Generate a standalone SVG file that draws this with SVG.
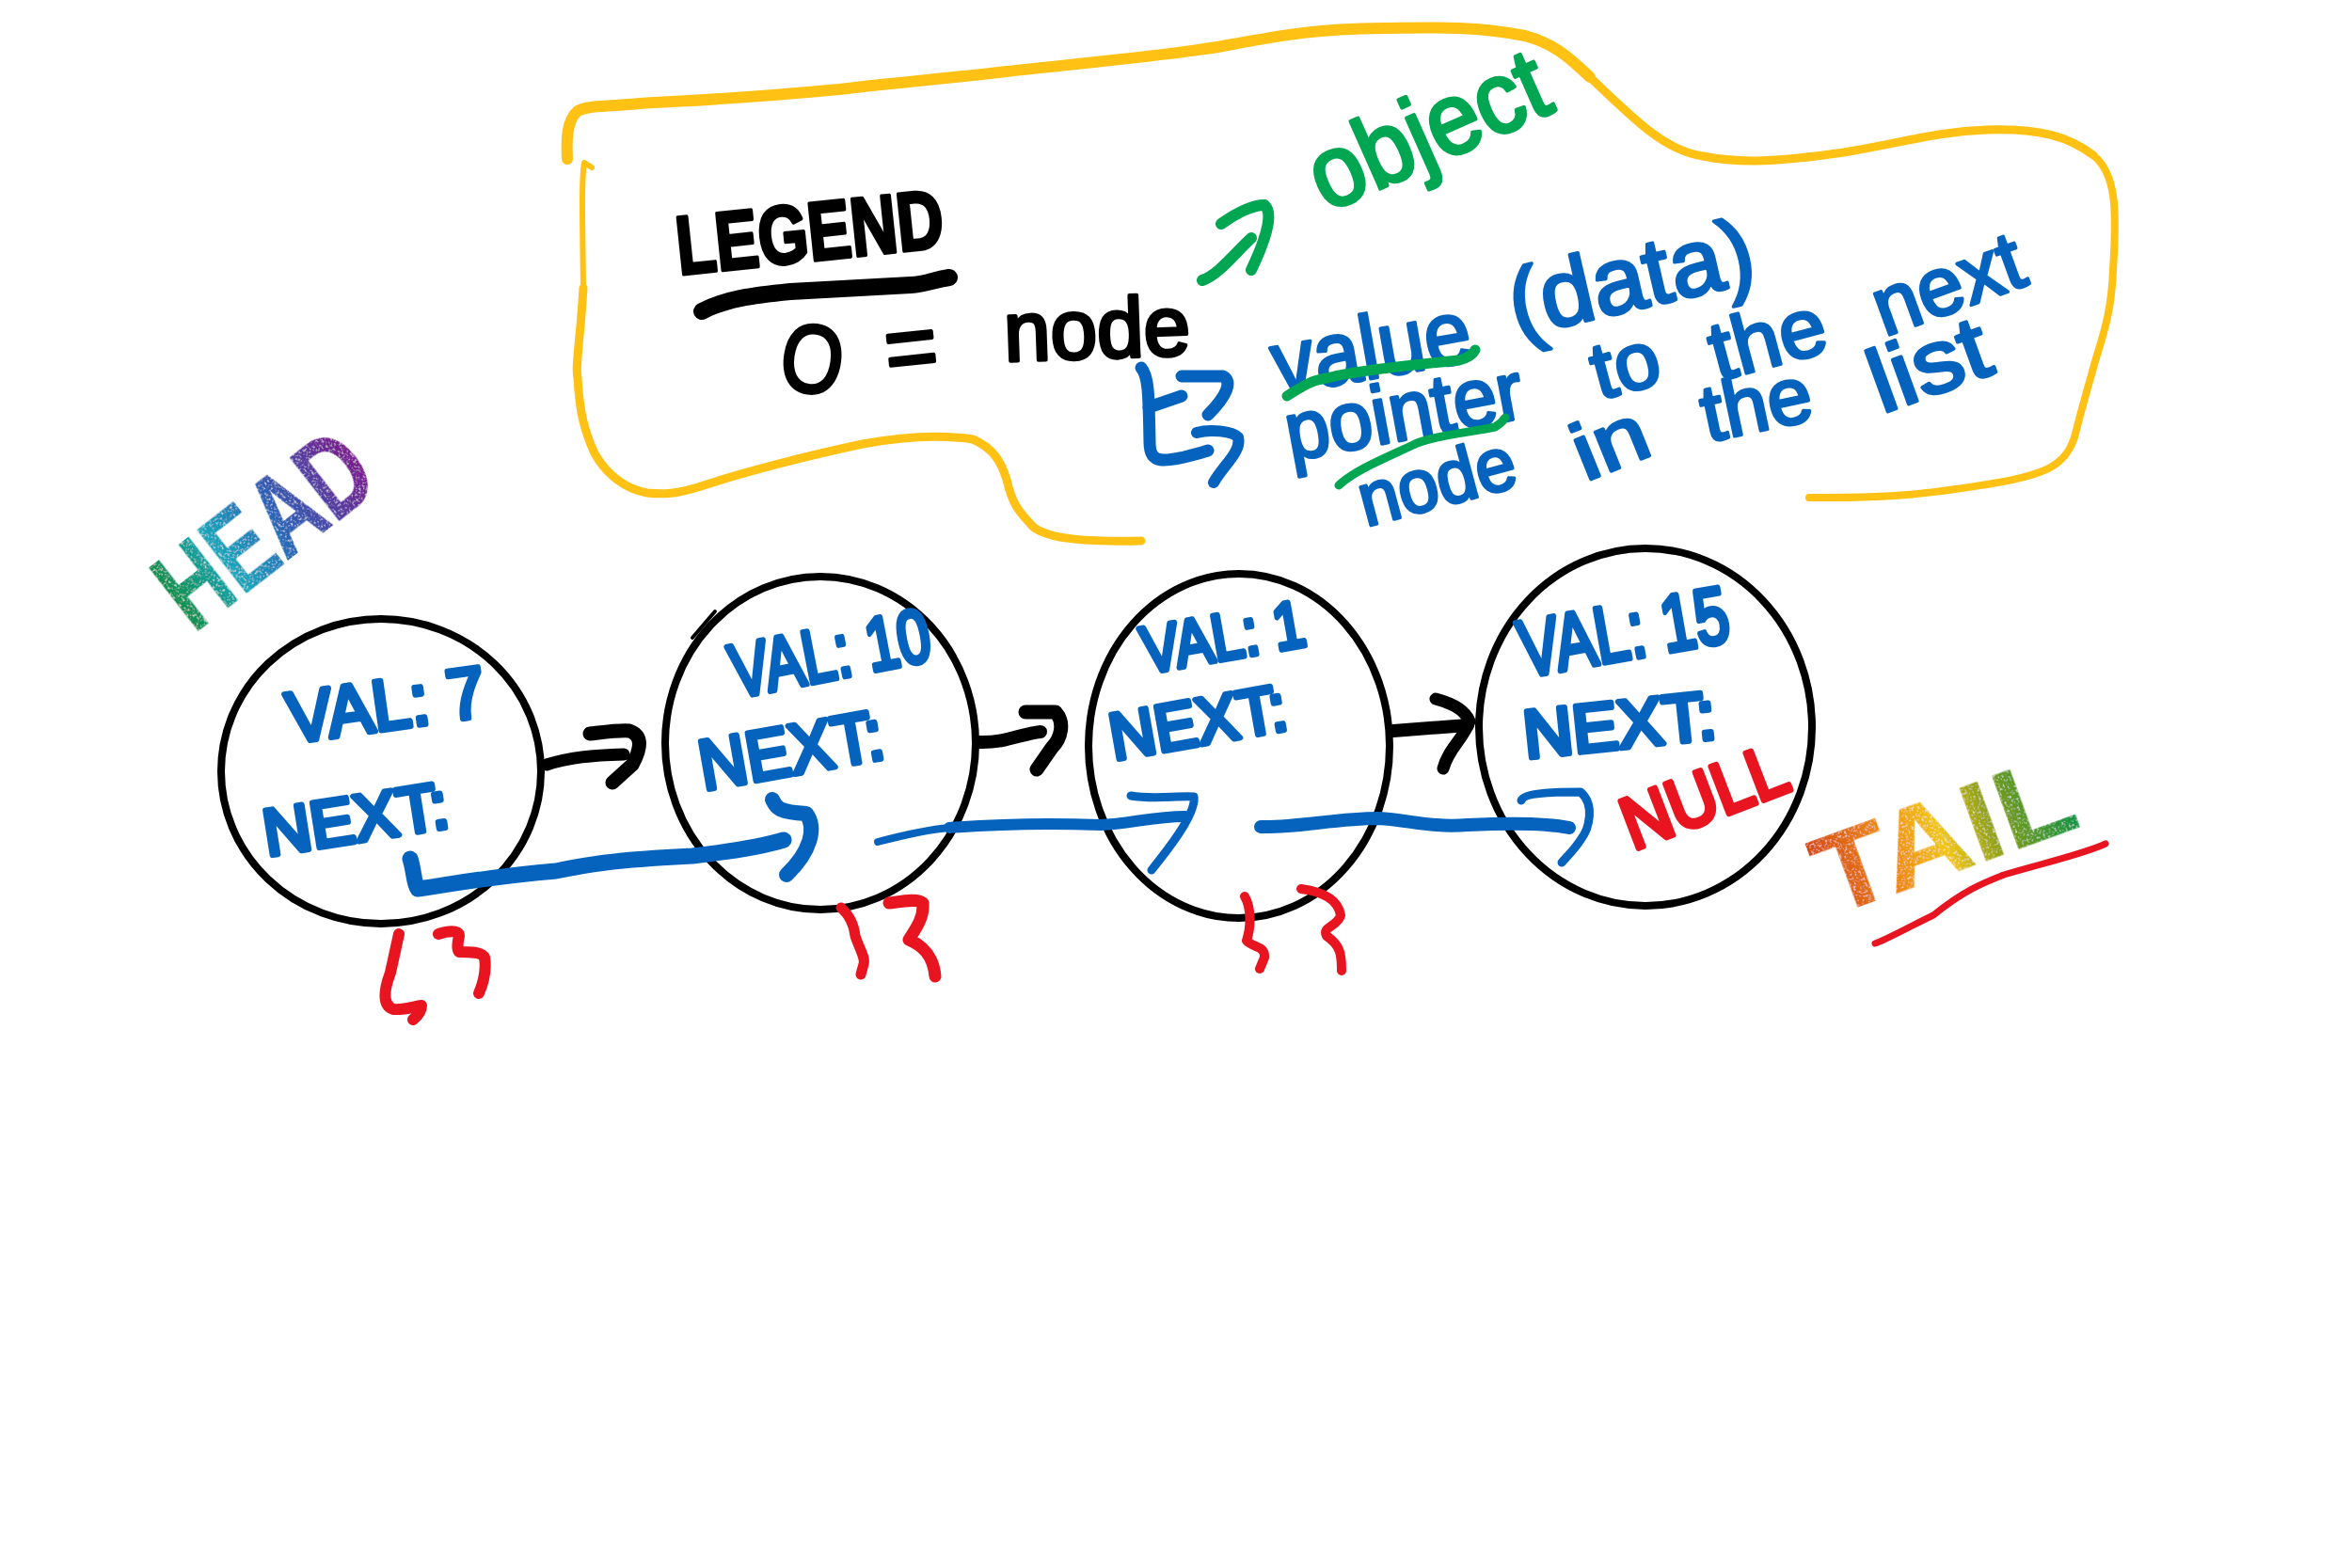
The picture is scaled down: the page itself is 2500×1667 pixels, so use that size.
<svg xmlns="http://www.w3.org/2000/svg" width="2500" height="1667" viewBox="0 0 2500 1667">
<style>
.s{fill:none;stroke-linecap:round;stroke-linejoin:round}
.y{stroke:#FFC114}
.k{stroke:#000}
.u{stroke:#0563BE}
.g{stroke:#00A651}
.r{stroke:#E8141F}
text{font-family:"Liberation Sans",Arial,sans-serif;stroke-linejoin:round}
.tb{fill:#0563BE;stroke:#0563BE;stroke-width:6}
.tl{fill:#0563BE;stroke:#0563BE;stroke-width:3.5}
.tg{fill:#00A651;stroke:#00A651;stroke-width:4}
.tk{fill:#000;stroke:#000;stroke-width:4}
ellipse{fill:none;stroke:#000;stroke-width:8}
</style>
<defs>
<linearGradient id="gh" gradientUnits="userSpaceOnUse" x1="0" y1="0" x2="250" y2="0">
<stop offset="0" stop-color="#0F8F45"/><stop offset=".3" stop-color="#12A6BC"/><stop offset=".6" stop-color="#2A5FB5"/><stop offset="1" stop-color="#7D1A90"/>
</linearGradient>
<linearGradient id="gt" gradientUnits="userSpaceOnUse" x1="0" y1="0" x2="280" y2="0">
<stop offset="0" stop-color="#D2480F"/><stop offset=".3" stop-color="#EE8C0E"/><stop offset=".5" stop-color="#F0C60E"/><stop offset=".72" stop-color="#829C12"/><stop offset="1" stop-color="#0E9443"/>
</linearGradient>
<filter id="glitter" x="-5%" y="-5%" width="110%" height="110%">
<feTurbulence type="fractalNoise" baseFrequency="0.45" numOctaves="2" seed="4" result="n"/>
<feColorMatrix in="n" type="matrix" values="0 0 0 0 1  0 0 0 0 1  0 0 0 0 1  2.6 0 0 0 -1.45" result="w"/>
<feComposite in="w" in2="SourceAlpha" operator="in" result="sp"/>
<feMerge><feMergeNode in="SourceGraphic"/><feMergeNode in="sp"/></feMerge>
</filter>
</defs>
<rect width="2500" height="1667" fill="#fff"/>

<g id="legend-border">
<path class="s y" stroke-width="12" d="M603 169C602 150 602 128 614 118C625 112 640 114 680 110C720 107 764 107 892 95C960 87 1010 83 1070 76C1170 65 1260 57 1305 48C1370 36 1400 31 1470 30C1530 29 1570 28 1621 38C1650 46 1665 58 1690 82"/>
<path class="s y" stroke-width="9" d="M1690 82C1740 130 1770 160 1810 166C1850 174 1890 172 1960 162C2030 150 2060 140 2112 138C2170 136 2200 146 2225 165"/>
<path class="s y" stroke-width="8" d="M2225 165C2250 185 2250 225 2246 287C2244 340 2232 364 2224 395C2214 430 2210 445 2205 465C2195 495 2175 505 2112 515C2060 523 2020 530 1923 529"/>
<path class="s y" stroke-width="6" d="M629 178L621 173C618 190 619 230 620 306"/>
<path class="s y" stroke-width="9" d="M620 306C617 360 611 390 614 402C616 440 622 460 632 482C645 505 665 520 688 524C705 526 720 525 745 517C790 502 860 484 917 472C960 464 1000 462 1034 467C1055 476 1064 490 1070 510C1077 540 1085 545 1098 560C1115 574 1160 576 1213 575"/>
</g>

<g id="legend">
<text class="tk" font-weight="700" font-size="88" textLength="285" lengthAdjust="spacingAndGlyphs" transform="translate(722 292) rotate(-6)">LEGEND</text>
<path class="s k" stroke-width="18" d="M746 331C770 318 800 314 840 310L968 303C985 302 990 298 1009 295"/>
<text class="tk" font-size="102" textLength="66" lengthAdjust="spacingAndGlyphs" transform="translate(826 412) rotate(8)">O</text>
<text class="tk" font-size="100" textLength="56" lengthAdjust="spacingAndGlyphs" transform="translate(944 406) rotate(-6)">=</text>
<text class="tk" font-size="90" stroke-width="5" textLength="198" lengthAdjust="spacingAndGlyphs" transform="translate(1068 384) rotate(-2)">node</text>
<path class="s g" stroke-width="12" d="M1298 238C1315 226 1330 218 1344 218C1352 225 1350 245 1330 287"/>
<path class="s g" stroke-width="12" d="M1330 253C1310 272 1295 292 1278 298"/>
<text class="tg" font-size="108" textLength="268" lengthAdjust="spacingAndGlyphs" transform="translate(1410 226) rotate(-24)">object</text>
<path class="s u" stroke-width="13" d="M1213 391C1221 400 1221 420 1222 470C1222 492 1232 495 1284 479"/>
<path class="s u" stroke-width="13" d="M1221 433L1256 421"/>
<path class="s u" stroke-width="13" d="M1256 400L1300 400C1310 405 1305 420 1284 441"/>
<path class="s u" stroke-width="12" d="M1272 460C1285 456 1310 458 1316 465C1320 480 1300 495 1290 513"/>
<text class="tl" font-size="96" textLength="213" lengthAdjust="spacingAndGlyphs" transform="translate(1358 420) rotate(-10)">value</text>
<text class="tl" font-size="88" textLength="255" lengthAdjust="spacingAndGlyphs" transform="translate(1372 490) rotate(-10.5)">pointer</text>
<text class="tl" font-size="80" textLength="170" lengthAdjust="spacingAndGlyphs" transform="translate(1452 560) rotate(-15)">node</text>
<text class="tl" font-size="100" textLength="265" lengthAdjust="spacingAndGlyphs" transform="translate(1612 358) rotate(-13)">(data)</text>
<text class="tl" font-size="85" textLength="72" lengthAdjust="spacingAndGlyphs" transform="translate(1700 425) rotate(-15)">to</text>
<text class="tl" font-size="88" textLength="125" lengthAdjust="spacingAndGlyphs" transform="translate(1826 405) rotate(-15)">the</text>
<text class="tl" font-size="88" textLength="165" lengthAdjust="spacingAndGlyphs" transform="translate(2003 358) rotate(-20)">next</text>
<text class="tl" font-size="85" textLength="80" lengthAdjust="spacingAndGlyphs" transform="translate(1685 512) rotate(-22)">in</text>
<text class="tl" font-size="85" textLength="118" lengthAdjust="spacingAndGlyphs" transform="translate(1815 470) rotate(-12)">the</text>
<text class="tl" font-size="95" textLength="130" lengthAdjust="spacingAndGlyphs" transform="translate(2000 440) rotate(-20)">list</text>
<path class="s g" stroke-width="11" d="M1368 421C1385 410 1395 404 1410 402C1440 394 1500 388 1551 383C1562 380 1566 376 1568 372"/>
<path class="s g" stroke-width="9" d="M1423 516C1440 500 1470 488 1502 473C1520 464 1560 460 1589 454C1596 450 1598 447 1600 444"/>
</g>

<g id="head">
<text font-size="122" font-weight="700" fill="url(#gh)" stroke="url(#gh)" stroke-width="1" textLength="255" lengthAdjust="spacingAndGlyphs" filter="url(#glitter)" transform="translate(206 674) rotate(-38)">HEAD</text>
</g>

<g id="node-1">
<ellipse cx="405" cy="820" rx="170" ry="162"/>
<text class="tb" font-size="76" textLength="212" lengthAdjust="spacingAndGlyphs" transform="translate(309 790) rotate(-8)">VAL: 7</text>
<text class="tb" font-size="70" textLength="198" lengthAdjust="spacingAndGlyphs" transform="translate(284 910) rotate(-9)">NEXT:</text>
</g>
<g id="node-2">
<ellipse cx="872" cy="790" rx="165" ry="177"/>
<path class="s k" stroke-width="4" d="M736 678L760 650"/>
<text class="tb" font-size="80" textLength="215" lengthAdjust="spacingAndGlyphs" transform="translate(782 742) rotate(-11)">VAL: 10</text>
<text class="tb" font-size="75" textLength="198" lengthAdjust="spacingAndGlyphs" transform="translate(748 840) rotate(-10)">NEXT:</text>
</g>
<g id="node-3">
<ellipse cx="1317" cy="793" rx="160" ry="183"/>
<text class="tb" font-size="70" textLength="175" lengthAdjust="spacingAndGlyphs" transform="translate(1218 716) rotate(-10)">VAL: 1</text>
<text class="tb" font-size="70" textLength="190" lengthAdjust="spacingAndGlyphs" transform="translate(1184 808) rotate(-10)">NEXT:</text>
</g>
<g id="node-4">
<ellipse cx="1749" cy="773" rx="177" ry="190"/>
<text class="tb" font-size="85" textLength="225" lengthAdjust="spacingAndGlyphs" transform="translate(1620 720) rotate(-10)">VAL: 15</text>
<text class="tb" font-size="72" textLength="205" lengthAdjust="spacingAndGlyphs" transform="translate(1622 806) rotate(-6)">NEXT:</text>
<text fill="#E8141F" stroke="#E8141F" stroke-width="6" font-size="78" textLength="182" lengthAdjust="spacingAndGlyphs" transform="translate(1736 904) rotate(-21)">NULL</text>
</g>

<g id="connectors">
<path class="s k" stroke-width="13" d="M581 813C605 805 630 803 663 802"/>
<path class="s k" stroke-width="15" d="M627 780C645 778 660 776 669 777C683 782 682 795 672 813L651 832"/>
<path class="s k" stroke-width="14" d="M1040 789C1070 790 1085 780 1106 778"/>
<path class="s k" stroke-width="15" d="M1090 757L1122 757C1132 768 1128 785 1118 795L1102 818"/>
<path class="s k" stroke-width="14" d="M1481 777L1560 771"/>
<path class="s k" stroke-width="13" d="M1526 743C1545 748 1558 756 1562 767C1556 785 1540 795 1534 817"/>
<path class="s u" stroke-width="17" d="M436 913C440 925 440 940 444 945C480 940 520 932 591 926C620 920 650 914 736 910C780 905 810 900 833 893"/>
<path class="s u" stroke-width="16" d="M821 850C825 858 825 863 857 865C868 880 862 905 836 930"/>
<path class="s u" stroke-width="8" d="M933 895C960 888 985 882 1009 880"/>
<path class="s u" stroke-width="12" d="M1009 880C1060 876 1120 875 1170 877C1200 876 1225 868 1260 868"/>
<path class="s u" stroke-width="9" d="M1202 846C1225 850 1250 846 1269 847C1272 865 1240 905 1224 925"/>
<path class="s u" stroke-width="14" d="M1340 879C1380 880 1420 870 1465 870C1500 872 1520 880 1560 877C1600 875 1640 874 1668 880"/>
<path class="s u" stroke-width="9" d="M1617 851C1620 842 1660 842 1680 842C1695 855 1690 880 1680 893C1672 905 1666 910 1660 917"/>
</g>

<g id="node-1-braces">
<path class="s r" stroke-width="12" d="M424 993L415 1034C409 1050 405 1068 418 1073C430 1074 440 1070 448 1069C448 1076 444 1080 439 1084"/>
<path class="s r" stroke-width="12" d="M466 993C475 990 488 988 488 995C486 1003 486 1010 488 1012C500 1012 512 1012 515 1018C517 1030 515 1042 509 1056"/>
</g>
<g id="node-2-braces">
<path class="s r" stroke-width="11" d="M894 965C905 975 908 985 909 995C914 1010 920 1018 918 1025L915 1036"/>
<path class="s r" stroke-width="13" d="M945 960C960 958 975 955 981 960C982 975 975 985 966 999C980 1005 992 1015 994 1038"/>
</g>
<g id="node-3-braces">
<path class="s r" stroke-width="10" d="M1323 953C1330 965 1330 985 1325 1000C1332 1008 1345 1005 1344 1018L1339 1030"/>
<path class="s r" stroke-width="10" d="M1383 945C1405 948 1422 955 1425 973C1422 985 1405 985 1410 995C1425 1005 1426 1015 1426 1032"/>
</g>

<g id="tail">
<text font-size="118" font-weight="700" fill="url(#gt)" stroke="url(#gt)" stroke-width="1" textLength="285" lengthAdjust="spacingAndGlyphs" filter="url(#glitter)" transform="translate(1946 975) rotate(-20)">TAIL</text>
<path class="s r" stroke-width="7" d="M1993 1003C2003 1000 2030 985 2055 973C2090 945 2110 938 2130 930C2170 918 2215 908 2238 897"/>
</g>
</svg>
